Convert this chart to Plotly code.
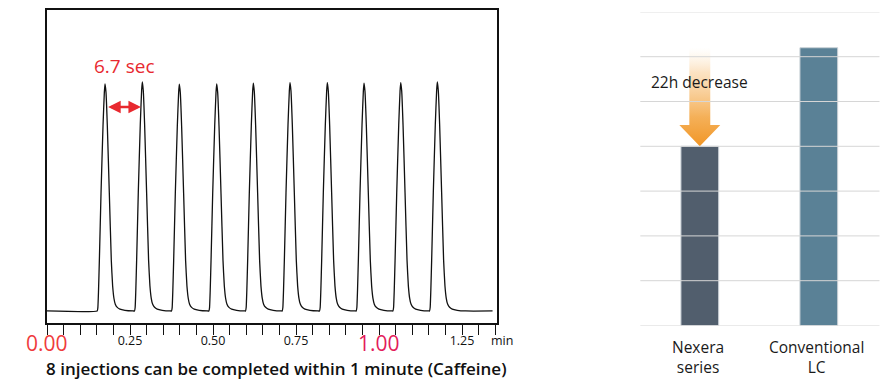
import plotly.graph_objects as go

# ---------------- Left panel: chromatogram (Caffeine, 8 injections / min) ----------------
peak_times = [0.1747, 0.2870, 0.3985, 0.5111, 0.6214, 0.7319, 0.8443, 0.9548, 1.0654, 1.1756]
peak_heights = [1.000, 1.009, 0.999, 1.000, 1.004, 1.006, 1.006, 1.004, 1.006, 1.009]
# one peak profile: offset from apex (min) and relative intensity
profile_offsets = [-0.0235, -0.0215, -0.0195, -0.0170, -0.0120, -0.0060, -0.0020, 0.0,
                   0.0030, 0.0070, 0.0130, 0.0190, 0.0230, 0.0270, 0.0310, 0.0370, 0.0450, 0.0600, 0.0850]
profile_levels = [0.0, 0.015, 0.090, 0.222, 0.519, 0.815, 0.963, 1.0,
                  0.963, 0.815, 0.519, 0.222, 0.110, 0.055, 0.030, 0.016, 0.008, 0.003, 0.0]
run_start = 0.0
run_end = 1.342
x_tick_vals = [0.25, 0.50, 0.75, 1.25]
x_tick_labels = ["0.25", "0.50", "0.75", "1.25"]
big_tick_vals = [0.0, 1.0]
big_tick_labels = ["0.00", "1.00"]
interval_label = "6.7 sec"
left_title = "8 injections can be completed within 1 minute (Caffeine)"

# ---------------- Right panel: analysis time ----------------
categories = ["Nexera<br>series", "Conventional<br>LC"]
hours = [40, 62]
decrease_label = "22h decrease"
grid_values = [0, 10, 20, 30, 40, 50, 60, 70]

RED = "#e8292f"
FONT = "Open Sans"

# build chromatogram trace
t = [run_start]
sig = [0.0]
for pt, h in zip(peak_times, peak_heights):
    for off, lev in zip(profile_offsets, profile_levels):
        t.append(pt + off)
        sig.append(h * lev)
t.append(run_end)
sig.append(0.0)

fig = go.Figure()
fig.add_trace(go.Scatter(
    x=t, y=sig, mode="lines", xaxis="x", yaxis="y",
    line=dict(color="#111111", width=1.3, shape="spline", smoothing=0.4),
    hoverinfo="skip"))

# right panel bars
xcat = list(range(len(categories)))
fig.add_trace(go.Bar(
    x=xcat, y=hours, xaxis="x2", yaxis="y2", width=0.317,
    marker=dict(color=["#515e6d", "#5a8196"], line=dict(color="#c9d0d6", width=1)),
    hoverinfo="skip"))

# orange gradient arrow from conventional level down to Nexera level
tip = hours[0]
top = hours[1]
head = tip + 4.75
sw, hw = 0.088, 0.172
fig.add_trace(go.Scatter(
    x=[-sw, sw, sw, hw, 0, -hw, -sw, -sw],
    y=[top, top, head, head, tip, head, head, top],
    xaxis="x2", yaxis="y2", mode="lines", fill="toself",
    line=dict(width=0, color="rgba(0,0,0,0)"),
    fillgradient=dict(type="vertical", start=tip, stop=top,
                      colorscale=[[0, "rgba(241,150,38,1)"], [0.3, "rgba(244,172,80,0.95)"],
                                  [0.75, "rgba(249,208,155,0.6)"], [1, "rgba(252,228,195,0)"]]),
    hoverinfo="skip"))

# gridlines drawn above bars
shapes = []
for g in grid_values:
    shapes.append(dict(type="line", xref="x2 domain", yref="y2", x0=0, x1=1.005, y0=g, y1=g,
                       line=dict(color="#d6d6d6", width=1), layer="above"))

annotations = []
# interval arrow and label
annotations.append(dict(x=peak_times[1] - 0.004, y=0.899, ax=peak_times[0] + 0.005, ay=0.899,
                        xref="x", yref="y", axref="x", ayref="y", text="", showarrow=True,
                        arrowside="end+start", arrowhead=2, startarrowhead=2, arrowsize=1,
                        startarrowsize=1, arrowwidth=2.5, arrowcolor=RED, standoff=0, startstandoff=0))
annotations.append(dict(x=(peak_times[0] + peak_times[1]) / 2, y=1.079, xref="x", yref="y",
                        text=interval_label, showarrow=False, xanchor="center", yanchor="middle",
                        font=dict(family=FONT, size=19, color=RED)))
big_colors = ["#ef3b3c", "#e31c5b"]
for v, lab, c in zip(big_tick_vals, big_tick_labels, big_colors):
    annotations.append(dict(x=v, y=1 - 343.3 / 389, xref="x", yref="paper", text=lab,
                            showarrow=False, xanchor="center", yanchor="middle",
                            font=dict(family=FONT, size=21, color=c)))
annotations.append(dict(x=502 / 896, y=1 - 340.5 / 389, xref="paper", yref="paper", text="min",
                        showarrow=False, xanchor="center", yanchor="middle",
                        font=dict(family=FONT, size=12.5, color="#111111")))
annotations.append(dict(x=276 / 896, y=1 - 368 / 389, xref="paper", yref="paper", text=left_title,
                        showarrow=False, xanchor="center", yanchor="middle",
                        font=dict(family=FONT, size=17, color="#111111", weight=600)))

# right panel texts
annotations.append(dict(x=0, y=54.3, xref="x2", yref="y2", text=decrease_label, showarrow=False,
                        xanchor="center", yanchor="middle",
                        font=dict(family=FONT, size=15.5, color="#1a1a1a")))
for i, cat in enumerate(categories):
    annotations.append(dict(x=i, y=1 - 356.5 / 389, xref="x2", yref="paper",
                            text=cat, showarrow=False, xanchor="center", yanchor="middle",
                            align="center", xshift=-2,
                            font=dict(family=FONT, size=15.5, color="#1a1a1a")))

fig.update_layout(
    width=896, height=389, margin=dict(l=0, r=0, t=0, b=0),
    paper_bgcolor="white", plot_bgcolor="white", showlegend=False,
    font=dict(family=FONT, color="#111111"),
    xaxis=dict(domain=[47 / 896, 497 / 896], range=[0, 1.3554], showgrid=False, zeroline=False,
               showline=True, linecolor="#111111", linewidth=1.5, mirror=True,
               tickvals=x_tick_vals, ticktext=x_tick_labels, ticks="outside", ticklen=10,
               tickwidth=1, tickcolor="#111111", tickfont=dict(family=FONT, size=12.5, color="#111111"),
               ticklabelstandoff=-5,
               minor=dict(dtick=0.05, tick0=0, ticks="outside", ticklen=10, tickwidth=1,
                          tickcolor="#111111", showgrid=False)),
    yaxis=dict(domain=[1 - 323 / 389, 1 - 10 / 389], range=[-0.053, 1.326], showgrid=False,
               zeroline=False, showline=True, linecolor="#111111", linewidth=1.5, mirror=True,
               showticklabels=False, ticks=""),
    xaxis2=dict(domain=[640.3 / 896, 878.3 / 896], range=[-0.5, 1.5], showgrid=False,
                zeroline=False, showline=False, showticklabels=False, ticks=""),
    yaxis2=dict(domain=[1 - 325.5 / 389, 1 - 11.9 / 389], range=[0, 70], showgrid=False,
                zeroline=False, showline=False, showticklabels=False, ticks=""),
    shapes=shapes, annotations=annotations,
)

fig.write_html("out.html", config={"displayModeBar": False},
               post_script="document.body.style.margin='0px';document.body.style.overflow='hidden';")
